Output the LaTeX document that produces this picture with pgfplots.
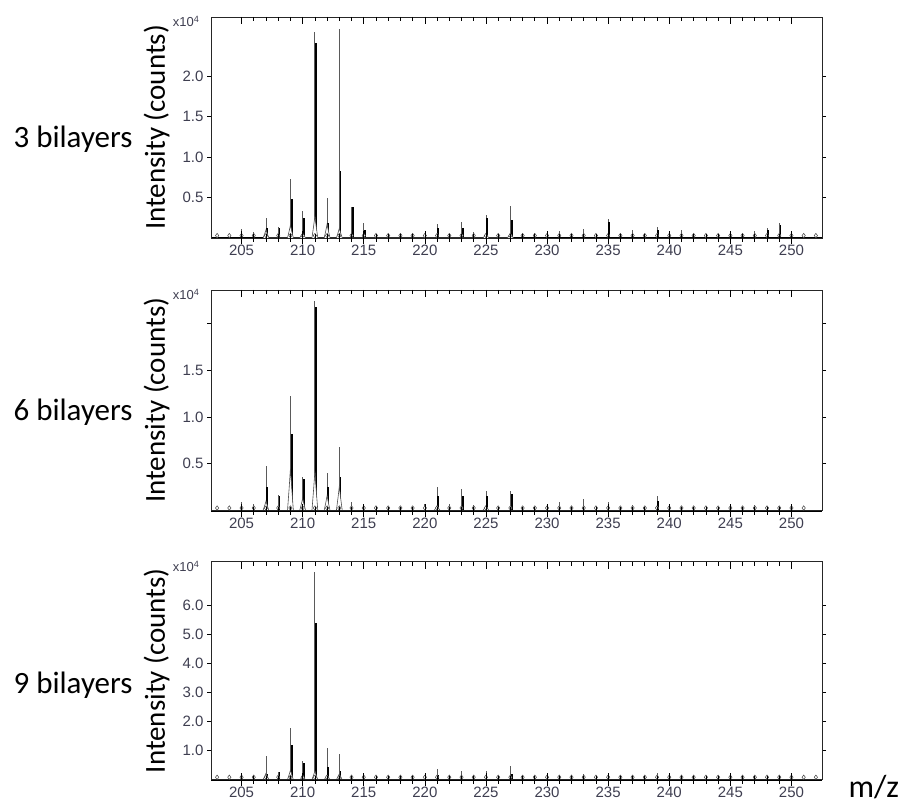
\documentclass[border=0pt]{standalone}
\usepackage{pgfplots}
\pgfplotsset{compat=1.18}
\usepackage{pgfplotstable}
\usepackage{fontspec}
\setmainfont{Liberation Sans}
\newfontfamily\calib{Carlito}
\definecolor{ticktext}{RGB}{62,62,80}
\definecolor{thinpk}{RGB}{90,90,90}

% columns: m/z, peak height, centre of the small base knot
% ---------- 3 bilayers ----------
\pgfplotstableread{
m   h    d
203 0.03 0.03
204 0.04 0.03
205 0.11 0.03
206 0.07 0.03
207 0.25 0.03
208 0.13 0.03
209 0.73 0.03
210 0.33 0.03
211 2.54 0.03
212 0.50 0.03
213 2.58 0.03
214 0.38 0.03
215 0.19 0.03
216 0.05 0.03
217 0.04 0.03
218 0.04 0.03
219 0.05 0.03
220 0.05 0.03
221 0.17 0.03
222 0.05 0.03
223 0.20 0.03
224 0.07 0.03
225 0.28 0.03
226 0.05 0.03
227 0.40 0.03
228 0.05 0.03
229 0.06 0.03
230 0.04 0.03
231 0.09 0.03
232 0.04 0.03
233 0.11 0.03
234 0.04 0.03
235 0.24 0.03
236 0.04 0.03
237 0.10 0.03
238 0.03 0.03
239 0.14 0.03
240 0.03 0.03
241 0.10 0.03
242 0.03 0.03
243 0.03 0.03
244 0.03 0.03
245 0.05 0.03
246 0.04 0.03
247 0.09 0.03
248 0.12 0.03
249 0.18 0.03
250 0.04 0.03
251 0.05 0.03
252 0.03 0.03
}\thinA
\pgfplotstableread{
m     h
207.1 0.12
208.1 0.12
209.1 0.48
210.1 0.25
211.1 2.41
212.1 0.19
213.1 0.83
214.1 0.38
215.1 0.10
221.1 0.12
223.1 0.12
225.1 0.25
227.1 0.22
235.1 0.20
239.1 0.10
248.1 0.10
249.1 0.16
}\thickA
\pgfplotstableread{
m      h
206.76 0
206.90 0.055
207.00 0.10
207.10 0.055
207.24 0
208.76 0
208.90 0.088
209.00 0.16
209.10 0.088
209.24 0
209.76 0
209.90 0.033
210.00 0.06
210.10 0.033
210.24 0
210.76 0
210.90 0.149
211.00 0.27
211.10 0.149
211.24 0
211.76 0
211.90 0.094
212.00 0.17
212.10 0.094
212.24 0
212.76 0
212.90 0.066
213.00 0.12
213.10 0.066
213.24 0
224.76 0
224.90 0.028
225.00 0.05
225.10 0.028
225.24 0
226.76 0
226.90 0.033
227.00 0.06
227.10 0.033
227.24 0
}\bumpA

% ---------- 6 bilayers ----------
\pgfplotstableread{
m   h    d
203 0.02 0.027
204 0.03 0.027
205 0.09 0.027
206 0.07 0.027
207 0.48 0.027
208 0.17 0.027
209 1.23 0.027
210 0.36 0.027
211 2.24 0.027
212 0.40 0.027
213 0.68 0.027
214 0.09 0.027
215 0.06 0.027
216 0.05 0.027
217 0.04 0.027
218 0.03 0.027
219 0.05 0.027
220 0.07 0.027
221 0.25 0.027
222 0.07 0.027
223 0.23 0.027
224 0.06 0.027
225 0.21 0.027
226 0.04 0.027
227 0.21 0.027
228 0.03 0.027
229 0.03 0.027
230 0.03 0.027
231 0.09 0.027
232 0.03 0.027
233 0.12 0.027
234 0.03 0.027
235 0.09 0.027
236 0.02 0.027
237 0.06 0.027
238 0.02 0.027
239 0.15 0.027
240 0.02 0.027
241 0.04 0.027
242 0.02 0.027
243 0.02 0.027
244 0.02 0.027
245 0.07 0.027
246 0.04 0.027
247 0.06 0.027
248 0.03 0.027
249 0.04 0.027
250 0.02 0.027
251 0.02 0.027
}\thinB
\pgfplotstableread{
m     h
207.1 0.25
208.1 0.16
209.1 0.82
210.1 0.34
211.1 2.18
212.1 0.25
213.1 0.36
221.1 0.15
223.1 0.15
225.1 0.15
227.1 0.18
239.1 0.10
}\thickB
\pgfplotstableread{
m      h
206.76 0
206.90 0.055
207.00 0.10
207.10 0.055
207.24 0
208.76 0
208.90 0.248
209.00 0.45
209.10 0.248
209.24 0
209.76 0
209.90 0.072
210.00 0.13
210.10 0.072
210.24 0
210.76 0
210.90 0.231
211.00 0.42
211.10 0.231
211.24 0
211.76 0
211.90 0.088
212.00 0.16
212.10 0.088
212.24 0
212.76 0
212.90 0.143
213.00 0.26
213.10 0.143
213.24 0
220.76 0
220.90 0.028
221.00 0.05
221.10 0.028
221.24 0
224.76 0
224.90 0.028
225.00 0.05
225.10 0.028
225.24 0
}\bumpB

% ---------- 9 bilayers ----------
\pgfplotstableread{
m   h    d
203 0.03 0.085
204 0.05 0.085
205 0.10 0.085
206 0.13 0.085
207 0.82 0.085
208 0.28 0.085
209 1.77 0.085
210 0.66 0.085
211 7.14 0.085
212 1.08 0.085
213 0.89 0.085
214 0.10 0.085
215 0.05 0.085
216 0.04 0.085
217 0.03 0.085
218 0.04 0.085
219 0.05 0.085
220 0.10 0.085
221 0.36 0.085
222 0.05 0.085
223 0.31 0.085
224 0.07 0.085
225 0.30 0.085
226 0.04 0.085
227 0.47 0.085
228 0.06 0.085
229 0.04 0.085
230 0.03 0.085
231 0.12 0.085
232 0.04 0.085
233 0.18 0.085
234 0.04 0.085
235 0.10 0.085
236 0.03 0.085
237 0.05 0.085
238 0.03 0.085
239 0.24 0.085
240 0.03 0.085
241 0.04 0.085
242 0.03 0.085
243 0.03 0.085
244 0.03 0.085
245 0.04 0.085
246 0.03 0.085
247 0.04 0.085
248 0.03 0.085
249 0.04 0.085
250 0.03 0.085
251 0.04 0.085
252 0.03 0.085
}\thinC
\pgfplotstableread{
m     h
207.1 0.20
208.1 0.25
209.1 1.20
210.1 0.57
211.1 5.39
212.1 0.45
213.1 0.30
221.1 0.15
227.1 0.20
}\thickC
\pgfplotstableread{
m      h
206.76 0
206.90 0.121
207.00 0.22
207.10 0.121
207.24 0
208.76 0
208.90 0.182
209.00 0.33
209.10 0.182
209.24 0
209.76 0
209.90 0.055
210.00 0.10
210.10 0.055
210.24 0
210.76 0
210.90 0.165
211.00 0.30
211.10 0.165
211.24 0
211.76 0
211.90 0.083
212.00 0.15
212.10 0.083
212.24 0
212.76 0
212.90 0.110
213.00 0.20
213.10 0.110
213.24 0
}\bumpC

\tikzset{expo/.style={anchor=base east, xshift=-8pt, yshift=-10pt,
  font=\fontsize{13}{13}\selectfont, text=ticktext}}

\pgfplotsset{
  spec/.style={scale only axis, width=611pt, xmin=202.5, xmax=252.5, ymin=0, clip=false},
  specmain/.style={spec, axis on top, xtick=\empty,
    ytick pos=both, yticklabel pos=left, tick align=outside,
    major tick length=4pt, tick style={black, line width=0.7pt},
    axis line style={line width=0.9pt, black!85},
    yticklabel style={font=\fontsize{15}{15}\selectfont, text=ticktext},
    ylabel={\calib\fontsize{29}{29}\selectfont Intensity (counts)},
    ylabel style={at={(axis description cs:-0.0753,0.5)}, anchor=base}},
  specbottom/.style={spec, axis line style={draw=none}, ytick=\empty,
    xtick pos=left, tick align=center, xtick={205,210,...,250}, minor x tick num=4,
    major tick length=13pt, minor tick length=8pt, tick style={black, line width=0.7pt},
    xticklabel style={font=\fontsize{15}{15}\selectfont, text=ticktext, yshift=3pt,
      /pgf/number format/assume math mode=true}},
  spectop/.style={spec, axis line style={draw=none}, ytick=\empty,
    xtick pos=right, tick align=inside, xtick={205,210,...,250}, minor x tick num=4,
    major tick length=7.5pt, minor tick length=4pt, tick style={black, line width=0.7pt},
    xticklabels={}},
  thinstick/.style={ycomb, thinpk, line width=0.8pt, mark=none},
  thickstick/.style={ycomb, black, line width=1.8pt, mark=none},
  knots/.style={only marks, mark=diamond*, mark size=2.2pt,
    mark options={fill=white, draw=black!75, line width=0.5pt}},
  bumps/.style={sharp plot, draw=black!70, line width=0.6pt, fill=white, mark=none},
  base/.style={black, line width=2pt, mark=none},
}

\begin{document}
\begin{tikzpicture}
\useasboundingbox (0pt,0pt) rectangle (902pt,807pt);

% panel: 3 bilayers
\begin{axis}[specmain, at={(211pt,569pt)}, anchor=south west, height=221pt, ymax=2.73,
  ytick={0.5,1,1.5,2}, yticklabels={0.5,1.0,1.5,2.0}]
  \addplot[thinstick] table[x=m, y=h] {\thinA};
  \addplot[thickstick] table[x=m, y=h] {\thickA};
  \addplot[base] coordinates {(202.5,0) (252.5,0)};
  \addplot[knots] table[x=m, y=d] {\thinA};
  \addplot[bumps] table[x=m, y=h] {\bumpA};
  \node[expo] at (rel axis cs:0,1) {x10\textsuperscript{4}};
\end{axis}
\begin{axis}[specbottom, at={(211pt,569pt)}, anchor=south west, height=221pt, ymax=2.73]
\end{axis}
\begin{axis}[spectop, at={(211pt,569pt)}, anchor=south west, height=221pt, ymax=2.73]
\end{axis}

% panel: 6 bilayers
\begin{axis}[specmain, at={(211pt,296.5pt)}, anchor=south west, height=220.5pt, ymax=2.36,
  ytick={0.5,1,1.5,2}, yticklabels={0.5,1.0,1.5,{}}]
  \addplot[thinstick] table[x=m, y=h] {\thinB};
  \addplot[thickstick] table[x=m, y=h] {\thickB};
  \addplot[base] coordinates {(202.5,0) (252.5,0)};
  \addplot[knots] table[x=m, y=d] {\thinB};
  \addplot[bumps] table[x=m, y=h] {\bumpB};
  \node[expo] at (rel axis cs:0,1) {x10\textsuperscript{4}};
\end{axis}
\begin{axis}[specbottom, at={(211pt,296.5pt)}, anchor=south west, height=220.5pt, ymax=2.36]
\end{axis}
\begin{axis}[spectop, at={(211pt,296.5pt)}, anchor=south west, height=220.5pt, ymax=2.36]
\end{axis}

% panel: 9 bilayers
\begin{axis}[specmain, at={(211pt,27.3pt)}, anchor=south west, height=218pt, ymax=7.5,
  ytick={1,2,3,4,5,6}, yticklabels={1.0,2.0,3.0,4.0,5.0,6.0}]
  \addplot[thinstick] table[x=m, y=h] {\thinC};
  \addplot[thickstick] table[x=m, y=h] {\thickC};
  \addplot[base] coordinates {(202.5,0) (252.5,0)};
  \addplot[knots] table[x=m, y=d] {\thinC};
  \addplot[bumps] table[x=m, y=h] {\bumpC};
  \node[expo] at (rel axis cs:0,1) {x10\textsuperscript{4}};
\end{axis}
\begin{axis}[specbottom, at={(211pt,27.3pt)}, anchor=south west, height=218pt, ymax=7.5]
\end{axis}
\begin{axis}[spectop, at={(211pt,27.3pt)}, anchor=south west, height=218pt, ymax=7.5]
\end{axis}

% sample labels and the m/z axis name
\node[anchor=base west, font=\calib\fontsize{31}{31}\selectfont] at (10pt,659pt) {3 bilayers};
\node[anchor=base west, font=\calib\fontsize{31}{31}\selectfont] at (10pt,386pt) {6 bilayers};
\node[anchor=base west, font=\calib\fontsize{31}{31}\selectfont] at (10pt,114pt) {9 bilayers};
\node[anchor=base west, font=\calib\fontsize{32}{32}\selectfont] at (845pt,10pt) {m/z};
\end{tikzpicture}
\end{document}
